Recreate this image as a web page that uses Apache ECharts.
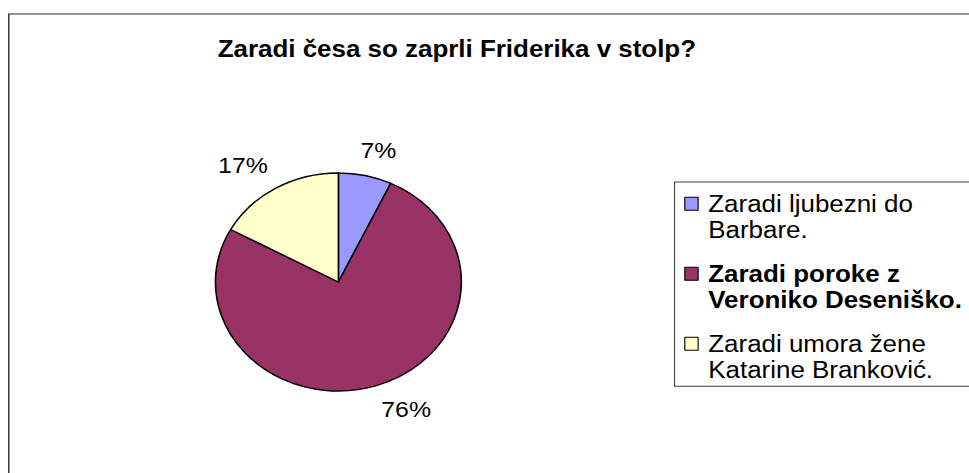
<!DOCTYPE html>
<html>
<head>
<meta charset="utf-8">
<title>Zaradi česa so zaprli Friderika v stolp?</title>
<script src="https://cdn.jsdelivr.net/npm/echarts@6/dist/echarts.min.js"></script>
<style>
  html, body { margin: 0; padding: 0; background: #fff; overflow: hidden; }
  /* original chart is stretched horizontally, so the whole canvas is too */
  #main { width: 859px; height: 473px; transform: scaleX(1.128); transform-origin: 0 0; }
</style>
</head>
<body>
<div id="main"></div>
<script>
// podatki
var categories = [
  'Zaradi ljubezni do Barbare.',
  'Zaradi poroke z Veroniko Deseniško.',
  'Zaradi umora žene Katarine Branković.'
];
var shares = [7, 76, 17];
var legendLines = [
  ['Zaradi ljubezni do', 'Barbare.'],
  ['Zaradi poroke z', 'Veroniko Deseniško.'],
  ['Zaradi umora žene', 'Katarine Branković.']
];
var boldItem = 1;
var sliceColors = ['#9999ff', '#993366', '#ffffcc'];

var font = 'Liberation Sans, Arial, sans-serif';
var cx = 300, cy = 282, R = 109;

var myChart = echarts.init(document.getElementById('main'), null, { renderer: 'svg' });

var total = shares.reduce(function (a, b) { return a + b; }, 0);
// sredina izseka (radiani), začetek na vrhu, v smeri urinega kazalca
function midAngle(i) {
  var before = 0;
  for (var k = 0; k < i; k++) before += shares[k];
  return (90 - 360 * (before + shares[i] / 2) / total) * Math.PI / 180;
}
// koliko se napis zamakne vstran (0 pri vrhu/dnu, 1 ob strani)
function side(v) {
  var s = Math.max(0, Math.min(1, (Math.abs(v) - 0.12) / 0.18));
  return v < 0 ? -s : s;
}

var option = {
  animation: false,
  backgroundColor: '#fff',
  color: sliceColors,
  title: {
    text: 'Zaradi česa so zaprli Friderika v stolp?',
    left: 405,
    top: 38,
    padding: 0,
    textAlign: 'center',
    textStyle: { fontSize: 23, fontWeight: 'bold', color: '#000', fontFamily: font }
  },
  legend: {
    orient: 'vertical',
    left: 598,
    top: 182,
    padding: [8.3, 30, 3, 8.6],
    itemWidth: 15.8,
    itemHeight: 52,
    itemGap: 17,
    icon: 'path://M0,0M0,6.5h11.8v13h-11.8zM15.8,52',
    itemStyle: { borderColor: '#000', borderWidth: 1 },
    borderColor: '#404040',
    borderWidth: 1,
    selectedMode: false,
    formatter: function (name) {
      var i = categories.indexOf(name);
      var tag = i === boldItem ? 'b' : 'r';
      return legendLines[i].map(function (s) { return '{' + tag + '|' + s + '}'; }).join('\n');
    },
    textStyle: {
      rich: {
        r: { fontSize: 23, lineHeight: 26, fontFamily: font, color: '#000' },
        b: { fontSize: 23, lineHeight: 26, fontFamily: font, fontWeight: 'bold', color: '#000' }
      }
    }
  },
  graphic: [{
    type: 'rect',
    silent: true,
    shape: { x: 7.8, y: 14, width: 1200, height: 800 },
    style: { fill: 'none', stroke: '#222', lineWidth: 1.2 }
  }],
  series: [{
    type: 'pie',
    center: [cx, cy],
    radius: R,
    startAngle: 90,
    clockwise: true,
    avoidLabelOverlap: false,
    data: categories.map(function (name, i) { return { name: name, value: shares[i] }; }),
    itemStyle: { borderColor: '#000', borderWidth: 1.4 },
    label: { show: true, position: 'outside', formatter: '{c}%', fontSize: 22, color: '#000', fontFamily: font },
    labelLine: { show: false },
    labelLayout: function (p) {
      var a = midAngle(p.dataIndex);
      var ux = Math.cos(a), uy = -Math.sin(a);
      var w = p.labelRect.width, h = p.labelRect.height;
      var gap = 14;
      return {
        x: cx + ux * (R + gap) + w / 2 * side(ux),
        y: cy + uy * (R + gap) + h / 2 * side(uy),
        align: 'center',
        verticalAlign: 'middle'
      };
    },
    emphasis: { disabled: true }
  }]
};

myChart.setOption(option);
</script>
</body>
</html>
